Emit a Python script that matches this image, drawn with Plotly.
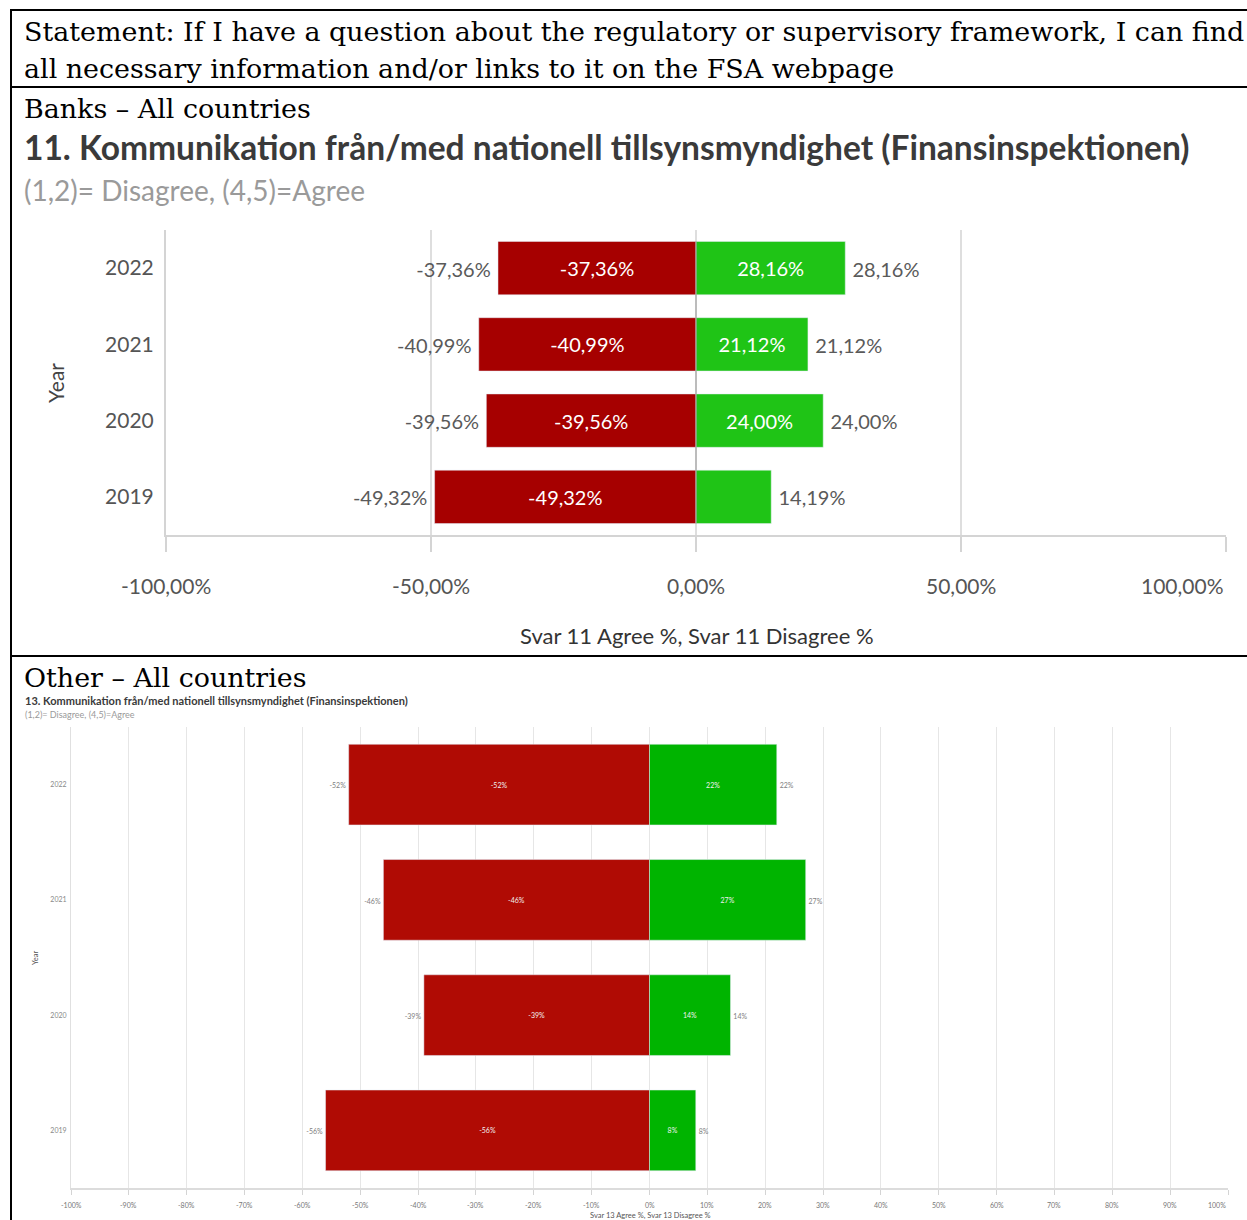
import plotly.graph_objects as go

W, H = 1247, 1220

# ---------------- data ----------------
years = ["2019", "2020", "2021", "2022"]
banks_disagree = [-49.32, -39.56, -40.99, -37.36]
banks_agree = [14.19, 24.00, 21.12, 28.16]
banks_inside_agree_show = [False, True, True, True]

other_disagree = [-56, -39, -46, -52]
other_agree = [8, 14, 27, 22]

top_ticks = [-100, -50, 0, 50, 100]
bot_ticks = [-100, -90, -80, -70, -60, -50, -40, -30, -20, -10, 0, 10, 20, 30, 40, 50, 60, 70, 80, 90, 100]

RED_TOP, GREEN_TOP = "#A60000", "#1FC416"
RED_BOT, GREEN_BOT = "#B00B04", "#00B400"
SANS = "Lato"
SERIF = "DejaVu Serif"
CLEAR = "rgba(0,0,0,0)"


def px(x):
    return x / W


def py(y):
    return 1 - y / H


def fmt2(v):
    return f"{v:.2f}".replace(".", ",") + "%"


def fmt0(v):
    return f"{v:.0f}%"


fig = go.Figure()

# ---------------- top chart (Banks) ----------------
fig.add_trace(go.Bar(
    y=years, x=banks_disagree, orientation="h", marker_color=RED_TOP,
    text=[fmt2(v) for v in banks_disagree], textposition="inside",
    insidetextanchor="middle", textfont=dict(family=SANS, size=20, color="white"),
    xaxis="x", yaxis="y", showlegend=False))
fig.add_trace(go.Bar(
    y=years, x=banks_agree, orientation="h", marker_color=GREEN_TOP,
    text=[fmt2(v) if s else "" for v, s in zip(banks_agree, banks_inside_agree_show)],
    textposition="inside", insidetextanchor="middle",
    textfont=dict(family=SANS, size=20, color="white"),
    xaxis="x", yaxis="y", showlegend=False))
fig.add_trace(go.Scatter(
    y=years, x=banks_disagree, mode="markers+text", text=[fmt2(v) for v in banks_disagree],
    marker=dict(size=10, color=CLEAR),
    textposition="middle left", textfont=dict(family=SANS, size=20, color="#5a5a5a"),
    xaxis="x", yaxis="y3", showlegend=False, cliponaxis=False))
fig.add_trace(go.Scatter(
    y=years, x=banks_agree, mode="markers+text", text=[fmt2(v) for v in banks_agree],
    marker=dict(size=10, color=CLEAR),
    textposition="middle right", textfont=dict(family=SANS, size=20, color="#5a5a5a"),
    xaxis="x", yaxis="y3", showlegend=False, cliponaxis=False))

# ---------------- bottom chart (Other) ----------------
fig.add_trace(go.Bar(
    y=years, x=other_disagree, orientation="h", marker_color=RED_BOT,
    text=[fmt0(v) for v in other_disagree], textposition="inside",
    insidetextanchor="middle", textfont=dict(family=SANS, size=7, color="#f0f0f0"),
    xaxis="x2", yaxis="y2", showlegend=False))
fig.add_trace(go.Bar(
    y=years, x=other_agree, orientation="h", marker_color=GREEN_BOT,
    text=[fmt0(v) for v in other_agree], textposition="inside",
    insidetextanchor="middle", textfont=dict(family=SANS, size=7, color="#f0f0f0"),
    xaxis="x2", yaxis="y2", showlegend=False))
fig.add_trace(go.Scatter(
    y=years, x=other_disagree, mode="markers+text", text=[fmt0(v) for v in other_disagree],
    marker=dict(size=3, color=CLEAR),
    textposition="middle left", textfont=dict(family=SANS, size=7, color="#808080"),
    xaxis="x2", yaxis="y4", showlegend=False, cliponaxis=False))
fig.add_trace(go.Scatter(
    y=years, x=other_agree, mode="markers+text", text=[fmt0(v) for v in other_agree],
    marker=dict(size=3, color=CLEAR),
    textposition="middle right", textfont=dict(family=SANS, size=7, color="#808080"),
    xaxis="x2", yaxis="y4", showlegend=False, cliponaxis=False))

# small downward nudge of the outside labels (category units)
d_top = 3.5 / 76
d_bot = 2.0 / 115

fig.update_layout(
    width=W, height=H, margin=dict(l=0, r=0, t=0, b=0),
    paper_bgcolor="white", plot_bgcolor="white",
    barmode="relative", bargap=0.3, hovermode=False,
    xaxis=dict(domain=[px(166), px(1226)], range=[-100, 100], anchor="y",
               tickvals=top_ticks, showticklabels=False, ticks="outside",
               ticklen=15, tickwidth=2, tickcolor="#d4d4d4",
               showgrid=True, gridcolor="#dedede", gridwidth=2, zeroline=False,
               showline=True, linecolor="#d4d4d4", linewidth=2, fixedrange=True),
    yaxis=dict(domain=[py(535), py(230)], anchor="x", type="category",
               categoryorder="array", categoryarray=years,
               range=[-0.5, 3.5], showline=True, linecolor="#d4d4d4", linewidth=2,
               ticks="", ticklabelstandoff=6,
               tickfont=dict(family=SANS, size=21, color="#555"),
               showgrid=False, zeroline=False),
    yaxis3=dict(overlaying="y", anchor="x", type="category",
                categoryorder="array", categoryarray=years,
                range=[-0.5 + d_top, 3.5 + d_top], visible=False),
    xaxis2=dict(domain=[px(71), px(1228)], range=[-100, 100], anchor="y2",
                tickvals=bot_ticks, showticklabels=False, ticks="outside",
                ticklen=5, tickwidth=1, tickcolor="#d4d4d4",
                showgrid=True, gridcolor="#e6e6e6", gridwidth=1, zeroline=False,
                showline=True, linecolor="#dcdcdc", linewidth=2),
    yaxis2=dict(domain=[py(1188), py(727)], anchor="x2", type="category",
                categoryorder="array", categoryarray=years,
                range=[-0.5, 3.5], showline=True, linecolor="#e0e0e0", linewidth=1,
                ticks="", ticklabelstandoff=2,
                tickfont=dict(family=SANS, size=7, color="#888"),
                showgrid=False, zeroline=False),
    yaxis4=dict(overlaying="y2", anchor="x2", type="category",
                categoryorder="array", categoryarray=years,
                range=[-0.5 + d_bot, 3.5 + d_bot], visible=False),
)

ann = []


def text(x, y, s, size, family, color="black", xanchor="left", bold=False, **kw):
    if bold:
        s = f"<b>{s}</b>"
    ann.append(dict(x=px(x), y=py(y), xref="paper", yref="paper", text=s,
                    showarrow=False, xanchor=xanchor, yanchor="middle",
                    font=dict(size=size, family=family, color=color), **kw))


# header texts
text(22, 31, "Statement: If I have a question about the regulatory or supervisory framework, I can find", 26.9, SERIF)
text(22, 69, "all necessary information and/or links to it on the FSA webpage", 26.9, SERIF)
text(22, 108, "Banks – All countries", 26.9, SERIF)
text(22, 147, "11. Kommunikation från/med nationell tillsynsmyndighet (Finansinspektionen)", 33.5, SANS, "#3a3a3a", bold=True)
text(22, 190, "(1,2)= Disagree, (4,5)=Agree", 28, SANS, "#9a9a9a")
text(55, 383, "Year", 21, SANS, "#444", xanchor="center", textangle=-90)
text(697, 635, "Svar 11 Agree %, Svar 11 Disagree %", 22, SANS, "#333", xanchor="center")

text(22, 677, "Other – All countries", 26.9, SERIF)
text(23, 700, "13. Kommunikation från/med nationell tillsynsmyndighet (Finansinspektionen)", 11, SANS, "#3a3a3a", bold=True)
text(23, 714, "(1,2)= Disagree, (4,5)=Agree", 9, SANS, "#9a9a9a")
text(35, 958, "Year", 7.5, SANS, "#555", xanchor="center", textangle=-90)
text(650, 1215, "Svar 13 Agree %, Svar 13 Disagree %", 7.5, SANS, "#555", xanchor="center")

# x tick labels
for v in top_ticks:
    ann.append(dict(x=v, y=py(585), xref="x", yref="paper", text=fmt2(v), showarrow=False,
                    xanchor="right" if v == 100 else "center", yanchor="middle",
                    font=dict(size=21, family=SANS, color="#555")))
for v in bot_ticks:
    ann.append(dict(x=v, y=py(1205), xref="x2", yref="paper", text=fmt0(v), showarrow=False,
                    xanchor="right" if v == 100 else "center", yanchor="middle",
                    font=dict(size=7, family=SANS, color="#777")))

fig.update_layout(annotations=ann)

# borders of the table and zero line
shapes = [
    dict(type="line", xref="paper", yref="paper", x0=px(11), x1=px(11), y0=py(9), y1=py(1220),
         line=dict(color="black", width=2)),
    dict(type="line", xref="paper", yref="paper", x0=px(10), x1=1, y0=py(10), y1=py(10),
         line=dict(color="black", width=2)),
    dict(type="line", xref="paper", yref="paper", x0=px(10), x1=1, y0=py(87), y1=py(87),
         line=dict(color="black", width=2)),
    dict(type="line", xref="paper", yref="paper", x0=px(10), x1=1, y0=py(656), y1=py(656),
         line=dict(color="black", width=2)),
    dict(type="line", xref="x", yref="y", x0=0, x1=0, y0=-0.35, y1=3.35,
         line=dict(color="#9a9a9a", width=1), layer="above"),
]
fig.update_layout(shapes=shapes)

fig.write_html("out.html")
